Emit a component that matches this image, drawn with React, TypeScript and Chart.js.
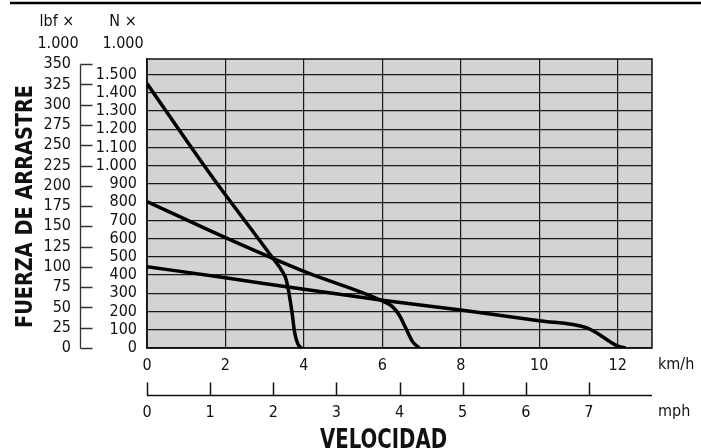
import React, { useEffect, useRef } from "react";
import { Chart, registerables } from "chart.js";

Chart.register(...registerables);

const FONT = '"Liberation Sans Narrow", "DejaVu Sans Condensed", "Arial Narrow", sans-serif';

const KMH_PER_MPH = 1.609344;
const N_PER_LBF = 4.44822;
const X_MAX_MPH = 8;
const X_MAX_KMH = X_MAX_MPH * KMH_PER_MPH;
const Y_MAX_N = 1585;

// Tick steps
const KMH_STEP = 2;
const MPH_STEP = 1;
const N_STEP = 100;
const LBF_STEP = 25;
const LBF_MAX_TICK = 350;

// Texts
const Y_TITLE = "FUERZA DE ARRASTRE";
const X_TITLE = "VELOCIDAD";
const LBF_UNIT = ["lbf ×", "1.000"];
const N_UNIT = ["N ×", "1.000"];
const KMH_UNIT = "km/h";
const MPH_UNIT = "mph";

// Curve 1 (low speed, highest force)
const curve1Speed = [0, 1.6, 3.2, 3.45, 3.55, 3.62, 3.7, 3.76, 3.84, 3.93];
const curve1Force = [1450, 957, 495, 420, 373, 300, 190, 90, 25, 0];

// Curve 2 (medium)
const curve2Speed = [0, 2, 4, 6, 6.25, 6.43, 6.6, 6.77, 6.94];
const curve2Force = [803, 605, 420, 258, 228, 181, 108, 35, 0];

// Curve 3 (high speed)
const curve3Speed = [0, 2, 4, 6, 8, 10, 11.2, 11.5, 11.8, 12.0, 12.2];
const curve3Force = [446, 385, 322, 262, 208, 150, 112, 78, 35, 10, 0];

const TEXT_COLOR = "#111";
const PLOT_BG = "#d3d3d3";

function formatN(v: number): string {
  if (v >= 1000) {
    const th = Math.floor(v / 1000);
    const rest = Math.round(v % 1000);
    return `${th}.${String(rest).padStart(3, "0")}`;
  }
  return String(v);
}

function drawFitted(ctx: CanvasRenderingContext2D, text: string, cx: number, baseline: number, width: number) {
  const w = ctx.measureText(text).width;
  const sx = width / w;
  ctx.save();
  ctx.translate(cx, baseline);
  ctx.scale(sx, 1);
  ctx.textAlign = "center";
  ctx.textBaseline = "alphabetic";
  ctx.fillText(text, 0, 0);
  ctx.restore();
}

const decorPlugin = {
  id: "decor",
  beforeDraw(chart: any) {
    const { ctx, chartArea } = chart;
    ctx.save();
    ctx.fillStyle = "#fff";
    ctx.fillRect(0, 0, chart.width, chart.height);
    ctx.fillStyle = PLOT_BG;
    ctx.fillRect(chartArea.left, chartArea.top, chartArea.right - chartArea.left, chartArea.bottom - chartArea.top);
    ctx.restore();
  },
  beforeDatasetsDraw(chart: any) {
    const { ctx, chartArea } = chart;
    ctx.save();
    ctx.strokeStyle = "#111";
    ctx.lineWidth = 1.5;
    ctx.strokeRect(chartArea.left, chartArea.top, chartArea.right - chartArea.left, chartArea.bottom - chartArea.top);
    ctx.restore();
  },
  afterDraw(chart: any) {
    const { ctx, chartArea } = chart;
    const yl = chart.scales.yl;
    const x2 = chart.scales.x2;
    const x = chart.scales.x;
    ctx.save();

    // top rule
    ctx.strokeStyle = "#000";
    ctx.lineWidth = 2.5;
    ctx.beginPath();
    ctx.moveTo(10, 3);
    ctx.lineTo(chart.width, 3);
    ctx.stroke();

    // lbf axis line and ticks (ticks pointing right)
    const lx = 80.5;
    const yTop = Math.round(yl.getPixelForValue(LBF_MAX_TICK)) + 0.5;
    const yBot = Math.round(yl.getPixelForValue(0)) + 0.5;
    ctx.strokeStyle = "#333";
    ctx.lineWidth = 1.3;
    ctx.beginPath();
    ctx.moveTo(lx, yTop);
    ctx.lineTo(lx, yBot);
    yl.ticks.forEach((t: any) => {
      const py = Math.round(yl.getPixelForValue(t.value)) + 0.5;
      ctx.moveTo(lx, py);
      ctx.lineTo(lx + 12, py);
    });
    ctx.stroke();

    // mph axis line with ticks pointing up
    const my = Math.round(x2.top + 17) + 0.5;
    ctx.strokeStyle = "#111";
    ctx.lineWidth = 1.5;
    ctx.beginPath();
    ctx.moveTo(chartArea.left, my);
    ctx.lineTo(chartArea.right, my);
    x2.ticks.forEach((t: any) => {
      const px = Math.round(x2.getPixelForValue(t.value)) + 0.5;
      ctx.moveTo(px, my);
      ctx.lineTo(px, my - 13);
    });
    ctx.stroke();

    // unit texts
    ctx.fillStyle = TEXT_COLOR;
    ctx.font = `16px ${FONT}`;
    ctx.textBaseline = "middle";
    ctx.textAlign = "center";
    ctx.fillText(LBF_UNIT[0], 57, 22);
    ctx.fillText(LBF_UNIT[1], 58, 44);
    ctx.fillText(N_UNIT[0], 123, 22);
    ctx.fillText(N_UNIT[1], 123, 44);

    ctx.textAlign = "left";
    ctx.fillText(KMH_UNIT, chartArea.right + 6, x.top + 17);
    ctx.fillText(MPH_UNIT, chartArea.right + 6, x2.top + 34);

    // axis titles
    ctx.font = `bold 27px ${FONT}`;
    drawFitted(ctx, X_TITLE, 383.5, 448, 127);

    ctx.save();
    ctx.font = `bold 23px ${FONT}`;
    ctx.translate(32, 206.5);
    ctx.rotate(-Math.PI / 2);
    drawFitted(ctx, Y_TITLE, 0, 0, 243);
    ctx.restore();

    ctx.restore();
  },
};

export default function App() {
  const canvasRef = useRef<HTMLCanvasElement | null>(null);

  useEffect(() => {
    const canvas = canvasRef.current;
    if (!canvas) return;

    const mk = (sx: number[], sy: number[]) => sx.map((v, i) => ({ x: v, y: sy[i] }));
    const lineStyle = {
      borderColor: "#000",
      borderWidth: 3.5,
      pointRadius: 0,
      fill: false,
      cubicInterpolationMode: "monotone" as const,
    };

    const tickFont = { family: FONT, size: 16 };

    const chart = new Chart(canvas, {
      type: "line",
      data: {
        datasets: [
          { label: "1", data: mk(curve1Speed, curve1Force), ...lineStyle },
          { label: "2", data: mk(curve2Speed, curve2Force), ...lineStyle },
          { label: "3", data: mk(curve3Speed, curve3Force), ...lineStyle },
        ],
      },
      options: {
        responsive: false,
        animation: false,
        devicePixelRatio: 1,
        layout: { padding: { top: 59, right: 49, left: 0, bottom: 0 } },
        plugins: { legend: { display: false }, tooltip: { enabled: false } },
        scales: {
          x: {
            type: "linear",
            position: "bottom",
            weight: 0,
            min: 0,
            max: X_MAX_KMH,
            ticks: { stepSize: KMH_STEP, includeBounds: false, autoSkip: false, font: tickFont, color: TEXT_COLOR, padding: 8, maxRotation: 0 },
            grid: { color: "#1a1a1a", lineWidth: 1.2, drawTicks: false },
            border: { display: true, color: "#111", width: 1.5 },
            afterFit: (s: any) => { s.height = 30; },
          },
          x2: {
            type: "linear",
            axis: "x",
            position: "bottom",
            weight: 1,
            min: 0,
            max: X_MAX_MPH,
            ticks: { stepSize: MPH_STEP, includeBounds: false, autoSkip: false, font: tickFont, color: TEXT_COLOR, padding: 25, maxRotation: 0 },
            grid: { display: false, drawTicks: false },
            border: { display: false },
            afterBuildTicks: (s: any) => { s.ticks = s.ticks.filter((t: any) => t.value < X_MAX_MPH); },
            afterFit: (s: any) => { s.height = 70; },
          },
          y: {
            type: "linear",
            position: "left",
            weight: 0,
            min: 0,
            max: Y_MAX_N,
            ticks: { stepSize: N_STEP, includeBounds: false, autoSkip: false, font: tickFont, color: TEXT_COLOR, padding: 10, callback: (v: any) => formatN(Number(v)) },
            grid: { color: "#1a1a1a", lineWidth: 1.2, drawTicks: false },
            border: { display: true, color: "#111", width: 1.5 },
            afterFit: (s: any) => { s.width = 52; },
          },
          yl: {
            type: "linear",
            axis: "y",
            position: "left",
            weight: 1,
            min: 0,
            max: Y_MAX_N / N_PER_LBF,
            ticks: { stepSize: LBF_STEP, includeBounds: false, autoSkip: false, font: tickFont, color: TEXT_COLOR, padding: 24 },
            grid: { display: false, drawTicks: false },
            border: { display: false },
            afterFit: (s: any) => { s.width = 95; },
          },
        },
      } as any,
      plugins: [decorPlugin],
    });

    return () => chart.destroy();
  }, []);

  return (
    <div style={{ position: "absolute", left: 0, top: 0, width: 701, height: 448, background: "#fff" }}>
      <canvas ref={canvasRef} width={701} height={448} style={{ display: "block", width: 701, height: 448 }} />
    </div>
  );
}
